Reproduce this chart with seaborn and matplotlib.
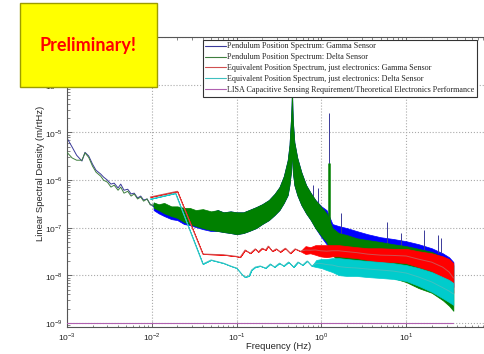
import numpy as np
import pandas as pd
import matplotlib
matplotlib.use("Agg")
import matplotlib.pyplot as plt
from matplotlib.patches import Rectangle
from matplotlib.lines import Line2D
from matplotlib.ticker import FixedLocator, LogLocator, NullFormatter
import seaborn as sns

# ==================== Data ====================
# low-frequency part of the pendulum spectra (single trace, m/rtHz)
lf_freq = [1.0e-3, 1.15e-3, 1.3e-3, 1.5e-3, 1.63e-3, 1.8e-3, 2.0e-3, 2.2e-3,
           2.5e-3, 2.7e-3, 3.0e-3, 3.3e-3, 3.6e-3, 4.0e-3, 4.3e-3, 4.7e-3,
           5.2e-3, 5.7e-3, 6.2e-3, 6.8e-3, 7.4e-3, 8.0e-3, 8.8e-3, 9.6e-3, 1.05e-2]
gamma_lf = [7.6e-6, 4.9e-6, 3.3e-6, 2.5e-6, 3.8e-6, 3.2e-6, 2.15e-6, 1.6e-6,
            1.33e-6, 1.15e-6, 9.9e-7, 8.2e-7, 8.6e-7, 6.8e-7, 8.2e-7, 6.1e-7,
            6.4e-7, 5.1e-7, 5.3e-7, 4.2e-7, 4.6e-7, 3.8e-7, 4.0e-7, 3.1e-7, 2.8e-7]
delta_lf = [3.8e-6, 2.9e-6, 2.6e-6, 2.6e-6, 3.7e-6, 3.0e-6, 1.95e-6, 1.46e-6,
            1.2e-6, 9.9e-7, 9.0e-7, 7.1e-7, 7.8e-7, 6.1e-7, 7.1e-7, 5.3e-7,
            5.8e-7, 4.6e-7, 5.1e-7, 4.0e-7, 4.4e-7, 3.6e-7, 4.0e-7, 3.0e-7, 3.0e-7]

# higher-frequency part: the dense spectra are shown as lower / upper envelopes
band_freq = [1.05e-2, 1.2e-2, 1.4e-2, 1.7e-2, 2.0e-2, 2.4e-2, 2.8e-2, 3.3e-2,
             4.0e-2, 5.0e-2, 6.0e-2, 7.0e-2, 8.5e-2, 0.10, 0.12, 0.14, 0.17,
             0.20, 0.24, 0.28, 0.32, 0.36, 0.40, 0.42, 0.44, 0.45, 0.46, 0.48,
             0.52, 0.58, 0.66, 0.75, 0.85, 1.0, 1.15, 1.35, 1.6, 2.0, 2.6, 3.5,
             5.0, 7.0, 10, 14, 20, 27, 32, 36]
delta_hi = [3.4e-7, 3.1e-7, 3.3e-7, 2.8e-7, 2.8e-7, 2.6e-7, 2.6e-7, 2.34e-7,
            2.45e-7, 2.2e-7, 2.34e-7, 2.1e-7, 2.2e-7, 2.1e-7, 2.1e-7, 2.34e-7, 2.7e-7,
            3.1e-7, 3.8e-7, 5.1e-7, 7.1e-7, 1.2e-6, 2.6e-6, 5.4e-6, 2.3e-5, 7.7e-5, 1.8e-5, 6.2e-6,
            2.9e-6, 1.46e-6, 7.8e-7, 5.3e-7, 3.8e-7, 2.7e-7, 2.0e-7, 9.8e-8, 7.7e-8, 7.0e-8, 6.0e-8, 5.5e-8,
            5.0e-8, 4.5e-8, 4.1e-8, 3.6e-8, 3.1e-8, 2.4e-8, 2.0e-8, 1.64e-8]
delta_lo = [2.6e-7, 2.34e-7, 2.0e-7, 1.75e-7, 1.6e-7, 1.31e-7, 1.19e-7, 1.08e-7,
            9.8e-8, 8.9e-8, 8.5e-8, 8.1e-8, 7.7e-8, 7.3e-8, 7.7e-8, 8.5e-8, 9.8e-8,
            1.19e-7, 1.44e-7, 1.84e-7, 2.34e-7, 3.3e-7, 4.8e-7, 7.8e-7, 1.6e-6, 4.2e-6, 1.46e-6, 7.8e-7,
            4.8e-7, 3.0e-7, 2.0e-7, 1.44e-7, 9.8e-8, 6.7e-8, 5.0e-8, 2.7e-8, 1.9e-8, 1.64e-8, 1.42e-8, 1.17e-8,
            1.01e-8, 8.8e-9, 7.2e-9, 5.4e-9, 4.3e-9, 3.0e-9, 2.3e-9, 1.8e-9]
gamma_hi = [3.3e-7, 3.0e-7, 3.1e-7, 2.7e-7, 2.7e-7, 2.45e-7, 2.45e-7, 2.2e-7,
            2.34e-7, 2.1e-7, 2.34e-7, 2.1e-7, 2.2e-7, 2.1e-7, 2.1e-7, 2.34e-7, 2.7e-7,
            3.1e-7, 3.8e-7, 5.1e-7, 7.1e-7, 1.2e-6, 2.6e-6, 5.4e-6, 2.3e-5, 7.7e-5, 1.8e-5, 6.2e-6,
            2.9e-6, 1.46e-6, 7.8e-7, 5.3e-7, 3.8e-7, 2.8e-7, 2.34e-7, 1.19e-7, 1.08e-7, 9.8e-8, 8.5e-8, 7.3e-8,
            6.3e-8, 5.8e-8, 5.2e-8, 4.5e-8, 3.7e-8, 2.9e-8, 2.4e-8, 1.9e-8]
gamma_lo = [2.34e-7, 2.0e-7, 1.75e-7, 1.51e-7, 1.44e-7, 1.19e-7, 1.13e-7, 1.03e-7,
            9.3e-8, 8.5e-8, 8.5e-8, 8.1e-8, 7.7e-8, 7.3e-8, 7.7e-8, 8.5e-8, 9.8e-8,
            1.19e-7, 1.44e-7, 1.84e-7, 2.34e-7, 3.3e-7, 4.8e-7, 7.8e-7, 1.6e-6, 4.2e-6, 1.46e-6, 7.8e-7,
            4.8e-7, 3.0e-7, 2.0e-7, 1.44e-7, 9.8e-8, 6.3e-8, 4.5e-8, 3.4e-8, 3.1e-8, 2.7e-8, 2.4e-8, 2.2e-8,
            2.0e-8, 1.8e-8, 1.64e-8, 1.42e-8, 1.12e-8, 8.4e-9, 6.9e-9, 5.7e-9]

# narrow lines in the gamma spectrum
gamma_spike_f = [0.80, 0.90, 1.24, 1.68, 6.0, 8.6, 16.4, 24.0, 25.8]
gamma_spike_top = [7.8e-7, 6.8e-7, 2.5e-5, 2.0e-7, 1.31e-7, 7.7e-8, 8.9e-8, 7.0e-8, 6.0e-8]
gamma_spike_base = [2.0e-7, 1.8e-7, 5.0e-8, 6.0e-8, 4.0e-8, 3.8e-8, 3.4e-8, 3.0e-8, 3.0e-8]
delta_spike_f = [1.24]
delta_spike_top = [2.3e-6]
delta_spike_base = [4.3e-8]

# electronics-only spectra
red_freq = [9.6e-3, 2.0e-2, 4.0e-2, 0.07, 0.10, 0.11, 0.126, 0.145, 0.166, 0.18,
            0.20, 0.22, 0.236, 0.264, 0.294, 0.327, 0.375, 0.43, 0.49, 0.565,
            0.65, 0.74, 0.85, 0.97, 1.15, 1.35, 1.6, 2.0, 2.6, 3.5, 5.0, 7.0,
            10, 14, 20, 27, 32, 36]
red_hi = [4.4e-7, 5.8e-7, 2.8e-8, 2.7e-8, 2.5e-8, 2.4e-8, 3.4e-8, 2.9e-8, 3.6e-8, 3.1e-8,
          3.7e-8, 3.4e-8, 4.1e-8, 3.2e-8, 3.6e-8, 3.1e-8, 3.7e-8, 2.9e-8, 3.6e-8, 3.2e-8,
          4.1e-8, 3.9e-8, 4.3e-8, 4.3e-8, 4.3e-8, 4.3e-8, 4.3e-8, 4.1e-8, 3.9e-8, 3.7e-8, 3.7e-8, 3.6e-8,
          3.6e-8, 3.2e-8, 2.9e-8, 2.5e-8, 2.2e-8, 1.8e-8]
red_lo = [4.4e-7, 5.8e-7, 2.8e-8, 2.7e-8, 2.5e-8, 2.4e-8, 3.4e-8, 2.9e-8, 3.6e-8, 3.1e-8,
          3.7e-8, 3.4e-8, 4.1e-8, 3.2e-8, 3.6e-8, 3.1e-8, 3.7e-8, 2.9e-8, 3.6e-8, 3.2e-8,
          2.8e-8, 2.9e-8, 2.7e-8, 2.5e-8, 2.4e-8, 2.5e-8, 2.5e-8, 2.4e-8, 2.3e-8, 2.1e-8, 1.9e-8, 1.9e-8,
          1.8e-8, 1.49e-8, 1.23e-8, 8.8e-9, 6.3e-9, 4.3e-9]

cyan_freq = [9.6e-3, 1.9e-2, 4.0e-2, 5.0e-2, 0.07, 0.085, 0.10, 0.115, 0.125, 0.14,
             0.15, 0.166, 0.19, 0.22, 0.25, 0.28, 0.32, 0.36, 0.41, 0.47, 0.53,
             0.6, 0.68, 0.77, 0.87, 1.0, 1.15, 1.35, 1.6, 2.0, 2.6, 3.5, 5.0,
             7.0, 10, 14, 20, 27, 32, 36]
cyan_hi = [4.0e-7, 5.3e-7, 1.73e-8, 2.1e-8, 1.8e-8, 1.57e-8, 1.42e-8, 1.06e-8, 9.2e-9, 9.7e-9,
           1.29e-8, 1.49e-8, 1.57e-8, 1.42e-8, 1.73e-8, 1.49e-8, 1.8e-8, 1.57e-8, 1.9e-8, 1.49e-8, 1.9e-8,
           1.64e-8, 2.0e-8, 1.57e-8, 2.1e-8, 2.2e-8, 2.2e-8, 2.3e-8, 2.3e-8, 2.2e-8, 2.1e-8, 2.0e-8, 1.9e-8,
           1.8e-8, 1.64e-8, 1.42e-8, 1.17e-8, 9.2e-9, 8.0e-9, 6.9e-9]
cyan_lo = [4.0e-7, 5.3e-7, 1.73e-8, 2.1e-8, 1.8e-8, 1.57e-8, 1.42e-8, 1.06e-8, 9.2e-9, 9.7e-9,
           1.29e-8, 1.49e-8, 1.57e-8, 1.42e-8, 1.73e-8, 1.49e-8, 1.8e-8, 1.57e-8, 1.9e-8, 1.49e-8, 1.9e-8,
           1.64e-8, 2.0e-8, 1.57e-8, 1.49e-8, 1.42e-8, 1.29e-8, 1.17e-8, 1.01e-8, 9.7e-9, 9.7e-9, 9.2e-9, 8.8e-9,
           8.4e-9, 7.6e-9, 6.0e-9, 4.5e-9, 3.3e-9, 2.75e-9, 2.4e-9]

# LISA requirement line
lisa_freq = [1.0e-3, 36]
lisa_level = [1.0e-9, 1.0e-9]

LABELS = [
    "Pendulum Position Spectrum: Gamma Sensor",
    "Pendulum Position Spectrum: Delta Sensor",
    "Equivalent Position Spectrum, just electronics: Gamma Sensor",
    "Equivalent Position Spectrum, just electronics: Delta Sensor",
    "LISA Capacitive Sensing Requirement/Theoretical Electronics Performance",
]

# tick positions and the labels that are visible in the reference
x_ticks = [1e-3, 1e-2, 1e-1, 1e0, 1e1, 1e2]
x_ticklabels = [r"$10^{-3}$", r"$10^{-2}$", r"$10^{-1}$", r"$10^{0}$", r"$10^{1}$", ""]
y_ticks = [1e-9, 1e-8, 1e-7, 1e-6, 1e-5, 1e-4, 1e-3]
y_ticklabels = [r"$10^{-9}$", r"$10^{-8}$", r"$10^{-7}$", r"$10^{-6}$", r"$10^{-5}$", r"$10^{-4}$", ""]

# ==================== Styles ====================
BAND_COLORS = ["#0000ff", "#008000", "#ff0000", "#00cccc"]
LINE_COLORS = ["#3a3a9a", "#3f7f3f", "#d05050", "#40c0c0", "#b060b0"]

sns.set_style("ticks")
plt.rcParams.update({
    "font.family": ["Liberation Sans", "DejaVu Sans"],
    "font.size": 6,
    "mathtext.fontset": "custom",
    "mathtext.rm": "Liberation Sans",
    "axes.linewidth": 0.8, "axes.edgecolor": "#555555",
    "xtick.direction": "in", "ytick.direction": "in",
    "xtick.top": True, "ytick.right": True,
    "xtick.major.size": 3.5, "ytick.major.size": 3.5,
    "xtick.minor.size": 1.8, "ytick.minor.size": 1.8,
    "xtick.major.width": 0.6, "ytick.major.width": 0.6,
    "xtick.minor.width": 0.5, "ytick.minor.width": 0.5,
    "xtick.color": "#555555", "ytick.color": "#555555",
    "xtick.labelcolor": "#222222", "ytick.labelcolor": "#222222",
})


def draw_band(ax, freq, lo, hi, band_color, line_color, z):
    ax.fill_between(freq, lo, hi, color=band_color, lw=0.5, edgecolor=band_color, zorder=z)
    mid = np.sqrt(np.asarray(lo) * np.asarray(hi))
    df = pd.DataFrame({"f": freq, "s": mid})
    sns.lineplot(data=df, x="f", y="s", ax=ax, color=line_color, lw=0.7,
                 estimator=None, sort=False, zorder=z)


fig = plt.figure(figsize=(4.85, 3.54), dpi=100)
ax = fig.add_axes([67 / 485, 1 - 327 / 354, 424 / 485, 290 / 354])
ax.set_xscale("log")
ax.set_yscale("log")

# gamma
sns.lineplot(x=lf_freq, y=gamma_lf, ax=ax, color=LINE_COLORS[0], lw=0.7, estimator=None, sort=False, zorder=2)
draw_band(ax, band_freq, gamma_lo, gamma_hi, BAND_COLORS[0], BAND_COLORS[0], 2)
ax.vlines(gamma_spike_f, gamma_spike_base, gamma_spike_top, color=LINE_COLORS[0], lw=0.7, zorder=2)
# delta
sns.lineplot(x=lf_freq, y=delta_lf, ax=ax, color=LINE_COLORS[1], lw=0.7, estimator=None, sort=False, zorder=3)
draw_band(ax, band_freq, delta_lo, delta_hi, BAND_COLORS[1], BAND_COLORS[1], 3)
ax.vlines(delta_spike_f, delta_spike_base, delta_spike_top, color=BAND_COLORS[1], lw=1.8, zorder=3)
# electronics
draw_band(ax, red_freq, red_lo, red_hi, BAND_COLORS[2], LINE_COLORS[2], 4)
draw_band(ax, cyan_freq, cyan_lo, cyan_hi, BAND_COLORS[3], LINE_COLORS[3], 5)
# requirement
sns.lineplot(x=lisa_freq, y=lisa_level, ax=ax, color=LINE_COLORS[4], lw=0.8, estimator=None, zorder=6)

ax.set_xlim(1e-3, 1e2)
ax.set_ylim(10 ** -9.084, 1e-3)
ax.xaxis.set_major_locator(FixedLocator(x_ticks))
ax.yaxis.set_major_locator(FixedLocator(y_ticks))
ax.set_xticklabels(x_ticklabels)
ax.set_yticklabels(y_ticklabels)
ax.xaxis.set_minor_locator(LogLocator(base=10, subs=np.arange(2, 10), numticks=100))
ax.yaxis.set_minor_locator(LogLocator(base=10, subs=np.arange(2, 10), numticks=100))
ax.xaxis.set_minor_formatter(NullFormatter())
ax.yaxis.set_minor_formatter(NullFormatter())
ax.tick_params(axis="both", which="major", labelsize=6, pad=3)
ax.grid(True, which="major", ls=":", color="#aaaaaa", lw=0.8)
for sp in ax.spines.values():
    sp.set_visible(True)

ax.set_xlabel("Frequency (Hz)", fontsize=6.8)
ax.xaxis.set_label_coords(0.5, -0.053)
ax.set_ylabel("Linear Spectral Density (m/rtHz)", fontsize=6.8)
ax.yaxis.set_label_coords(-0.052, 0.53)
if ax.get_legend() is not None:
    ax.get_legend().remove()

handles = [Line2D([], [], color=c, lw=0.8) for c in LINE_COLORS]
leg = fig.legend(handles, LABELS, loc="upper left", bbox_to_anchor=(203 / 485, 1 - 40 / 354),
                 bbox_transform=fig.transFigure, prop={"family": "Liberation Serif", "size": 5.85},
                 frameon=True, fancybox=False, edgecolor="#333333", framealpha=1,
                 borderpad=0.3, labelspacing=0.36, handlelength=2.5, handletextpad=0.15,
                 borderaxespad=0)
leg.get_frame().set_linewidth(0.8)

# "Preliminary!" sticker
fig.add_artist(Rectangle((20 / 485, 1 - 87 / 354), 137 / 485, 84 / 354, transform=fig.transFigure,
                         facecolor="#ffff00", edgecolor="#9c9c00", lw=1.0, zorder=10))
fig.text(88 / 485, 1 - 46 / 354, "Preliminary!", color="#ff0000", fontsize=13,
         fontweight="bold", family=["Lato", "DejaVu Sans"], ha="center", va="center", zorder=11)

fig.savefig("out.png", dpi=100)
